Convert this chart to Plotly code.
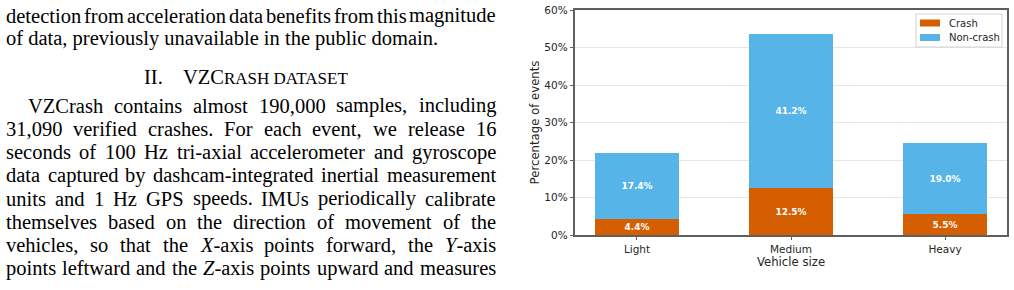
import plotly.graph_objects as go

# ---------------- data ----------------
categories = ["Light", "Medium", "Heavy"]
crash_pct = [4.4, 12.5, 5.5]
noncrash_pct = [17.4, 41.2, 19.0]
series_names = ["Crash", "Non-crash"]
y_tick_values = [0, 10, 20, 30, 40, 50, 60]
y_tick_labels = ["0%", "10%", "20%", "30%", "40%", "50%", "60%"]

# surrounding paper text (line, justified?)
para1_lines = [
    ("detection from acceleration data benefits from this magnitude", True),
    ("of data, previously unavailable in the public domain.", False),
]
heading_number = "II."
heading_big = "VZC"
heading_small = "RASH DATASET"
para2_lines = [
    ("VZCrash contains almost 190,000 samples, including", True),
    ("31,090 verified crashes. For each event, we release 16", True),
    ("seconds of 100 Hz tri-axial accelerometer and gyroscope", True),
    ("data captured by dashcam-integrated inertial measurement", True),
    ("units and 1 Hz GPS speeds. IMUs periodically calibrate", True),
    ("themselves based on the direction of movement of the", True),
    ("vehicles, so that the <i>X</i>-axis points forward, the <i>Y</i>-axis", True),
    ("points leftward and the <i>Z</i>-axis points upward and measures", True),
]

# ---------------- layout constants ----------------
W, H = 1014, 290
AX_L, AX_R, AX_T, AX_B = 575, 1007, 10, 235
CRASH_COLOR = "#D55E00"
NONCRASH_COLOR = "#56B4E9"
SPINE = "#5f5f5f"
TXT = "#262626"
SANS = "DejaVu Sans"
SERIF = "Liberation Serif"
TEXT_SIZE = 20.5
colors = [CRASH_COLOR, NONCRASH_COLOR]

fig = go.Figure()
for name, vals, col in zip(series_names, [crash_pct, noncrash_pct], colors):
    fig.add_trace(go.Bar(
        name=name, x=categories, y=vals, width=0.55,
        marker=dict(color=col, line=dict(width=0)),
        texttemplate="%{y:.1f}%", textposition="inside",
        insidetextanchor="middle", textangle=0, constraintext="none",
        textfont=dict(family=SANS, size=9, color="white", weight="bold"),
        hoverinfo="skip", showlegend=False,
    ))

fig.update_layout(
    barmode="stack",
    width=W, height=H,
    margin=dict(l=0, r=0, t=0, b=0, pad=0),
    paper_bgcolor="white", plot_bgcolor="white",
    showlegend=False,
    xaxis=dict(
        domain=[AX_L / W, AX_R / W], automargin=False,
        type="category", range=[-0.4025, 2.4025],
        showline=True, linecolor=SPINE, linewidth=1.5, mirror=True,
        ticks="outside", ticklen=3.5, tickwidth=1, tickcolor=SPINE,
        tickfont=dict(family=SANS, size=10.5, color=TXT),
        showgrid=False, zeroline=False,
        title=dict(text="Vehicle size", font=dict(family=SANS, size=11.7, color=TXT), standoff=3),
    ),
    yaxis=dict(
        domain=[1 - AX_B / H, 1 - AX_T / H], automargin=False,
        range=[0, 60],
        tickmode="array", tickvals=y_tick_values, ticktext=y_tick_labels,
        showline=True, linecolor=SPINE, linewidth=1.5, mirror=True,
        ticks="outside", ticklen=3.5, tickwidth=1, tickcolor=SPINE,
        tickfont=dict(family=SANS, size=10.5, color=TXT),
        showgrid=True, gridcolor="#e6e6e6", gridwidth=1, zeroline=False,
        title=dict(text="Percentage of events", font=dict(family=SANS, size=11.7, color=TXT), standoff=2),
    ),
)

# ---------------- legend (upper right, matplotlib style) ----------------
LEG_L, LEG_R, LEG_T, LEG_B = 916, 1002, 14, 47
fig.add_shape(type="rect", xref="paper", yref="paper",
              x0=LEG_L / W, x1=LEG_R / W, y0=1 - LEG_B / H, y1=1 - LEG_T / H,
              line=dict(color="#d3d3d3", width=1), fillcolor="rgba(255,255,255,0.85)")
for k, (name, col) in enumerate(zip(series_names, colors)):
    cy = 23 + k * 14.5
    fig.add_shape(type="rect", xref="paper", yref="paper",
                  x0=920 / W, x1=940 / W, y0=1 - (cy + 3.5) / H, y1=1 - (cy - 3.5) / H,
                  line=dict(width=0), fillcolor=col)
    fig.add_annotation(x=947.5 / W, y=1 - cy / H, xref="paper", yref="paper",
                       text=name, showarrow=False, xanchor="left", yanchor="middle",
                       borderpad=0, font=dict(family=SANS, size=10, color=TXT))

# ---------------- paper text ----------------
TIMES = {' ': 250, 'a': 444, 'b': 500, 'c': 444, 'd': 500, 'e': 444, 'f': 333, 'g': 500,
         'h': 500, 'i': 278, 'j': 278, 'k': 500, 'l': 278, 'm': 778, 'n': 500, 'o': 500,
         'p': 500, 'q': 500, 'r': 333, 's': 389, 't': 278, 'u': 500, 'v': 500, 'w': 722,
         'x': 500, 'y': 500, 'z': 444, 'A': 722, 'B': 667, 'C': 667, 'D': 722, 'E': 611,
         'F': 556, 'G': 722, 'H': 722, 'I': 333, 'J': 389, 'K': 722, 'L': 611, 'M': 889,
         'N': 722, 'O': 722, 'P': 556, 'Q': 722, 'R': 667, 'S': 556, 'T': 611, 'U': 722,
         'V': 722, 'W': 944, 'X': 722, 'Y': 722, 'Z': 611, ',': 250, '.': 250, '-': 333}
for d in "0123456789":
    TIMES[d] = 500
ITALIC = {'X': 611, 'Y': 556, 'Z': 556}


def word_width(word, size):
    total, italic, i = 0, False, 0
    while i < len(word):
        if word.startswith("<i>", i):
            italic, i = True, i + 3
            continue
        if word.startswith("</i>", i):
            italic, i = False, i + 4
            continue
        ch = word[i]
        total += ITALIC.get(ch, TIMES.get(ch, 500)) if italic else TIMES.get(ch, 500)
        i += 1
    return total / 1000 * size


BASE_SHIFT = 0.3 * TEXT_SIZE  # baseline sits below the annotation's middle


def add_text(x_px, baseline_px, text, size=TEXT_SIZE, anchor="left"):
    fig.add_annotation(
        x=x_px / W, y=1 - (baseline_px - BASE_SHIFT) / H, xref="paper", yref="paper",
        text=text, showarrow=False, xanchor=anchor, yanchor="middle",
        borderpad=0, font=dict(family=SERIF, size=size, color="black"),
    )


RIGHT = 495


def add_line(text, left, baseline, justified):
    if not justified:
        add_text(left, baseline, text)
        return
    words = text.split(" ")
    widths = [word_width(w, TEXT_SIZE) for w in words]
    gap = (RIGHT - left - sum(widths)) / (len(words) - 1)
    x = left
    for w, wd in zip(words, widths):
        add_text(x, baseline, w)
        x += wd + gap


base1 = [21.7, 45.0]
for (t, j), b in zip(para1_lines, base1):
    add_line(t, 5, b, j)

heading_base = 83
add_text(143, heading_base, heading_number)
add_text(143 + 1.916 * TEXT_SIZE, heading_base,
         heading_big + '<span style="font-size:17px">' + heading_small + '</span>')

LINE_STEP = 23.25
for k, (t, j) in enumerate(para2_lines):
    add_line(t, 27 if k == 0 else 5, 111.7 + k * LINE_STEP, j)

fig.write_html("out.html")
